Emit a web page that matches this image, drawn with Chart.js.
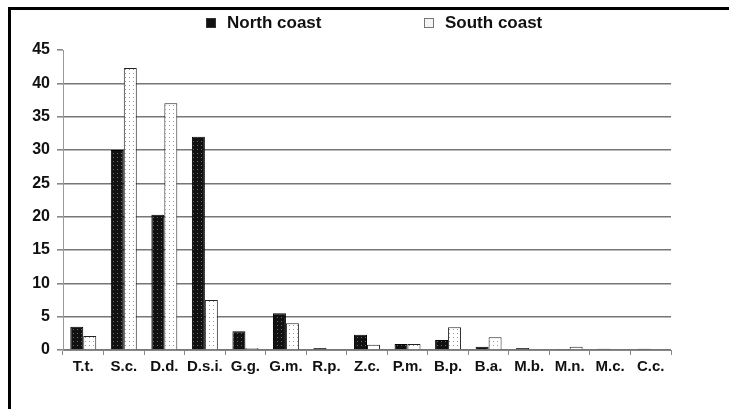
<!DOCTYPE html>
<html>
<head>
<meta charset="utf-8">
<script src="https://cdn.jsdelivr.net/npm/chart.js@4.4.0/dist/chart.umd.min.js"></script>
<style>
  html, body { margin: 0; padding: 0; background: #ffffff; }
  #wrap { position: relative; width: 729px; height: 409px; }
  canvas { display: block; }
</style>
</head>
<body>
<div id="wrap"><canvas id="c" width="729" height="409"></canvas></div>
<script>
const categories = ["T.t.", "S.c.", "D.d.", "D.s.i.", "G.g.", "G.m.", "R.p.", "Z.c.", "P.m.", "B.p.", "B.a.", "M.b.", "M.n.", "M.c.", "C.c."];
const northCoast = [3.5, 30, 20.3, 32, 2.8, 5.5, 0.3, 2.3, 0.9, 1.5, 0.5, 0.3, 0.15, 0.2, 0.2];
const southCoast = [2.1, 42.3, 37, 7.5, 0.3, 4, 0, 0.8, 0.9, 3.4, 1.9, 0, 0.5, 0, 0];
const yTicks = [0, 5, 10, 15, 20, 25, 30, 35, 40, 45];

const mainCtx = document.getElementById('c').getContext('2d');
function makePattern(bg, dot) {
  const p = document.createElement('canvas');
  p.width = 4; p.height = 4;
  const g = p.getContext('2d');
  g.fillStyle = bg; g.fillRect(0, 0, 4, 4);
  g.fillStyle = dot; g.fillRect(1, 1, 1, 1);
  return mainCtx.createPattern(p, 'repeat');
}
const northFill = makePattern('#111111', '#6a6a6a');
const southFill = makePattern('#ffffff', '#9a9a9a');

const framePlugin = {
  id: 'frame',
  afterDraw(chart) {
    const ctx = chart.ctx;
    ctx.save();
    ctx.fillStyle = '#000';
    ctx.fillRect(8, 7, 729 - 8, 3);
    ctx.fillRect(8, 7, 3, 409 - 7);
    ctx.restore();
  }
};

// legend drawn from the dataset labels, at the reference's spacing
const legendPlugin = {
  id: 'customLegend',
  afterDraw(chart) {
    const ctx = chart.ctx;
    const items = [
      { x: 206, fill: '#111', stroke: '#333' },
      { x: 424, fill: '#f4f4f4', stroke: '#777' }
    ];
    ctx.save();
    ctx.font = "bold 17px 'Liberation Sans', Arial, sans-serif";
    ctx.textBaseline = 'middle';
    ctx.textAlign = 'left';
    chart.data.datasets.forEach((ds, i) => {
      const it = items[i];
      ctx.fillStyle = it.fill;
      ctx.strokeStyle = it.stroke;
      ctx.lineWidth = 1;
      ctx.fillRect(it.x, 18, 10, 10);
      ctx.strokeRect(it.x + 0.5, 18.5, 9, 9);
      ctx.fillStyle = '#111';
      ctx.fillText(ds.label, it.x + 21, 23);
    });
    ctx.restore();
  }
};

new Chart(document.getElementById('c'), {
  type: 'bar',
  data: {
    labels: categories,
    datasets: [
      { label: 'North coast', data: northCoast, backgroundColor: northFill, borderColor: '#000', borderWidth: 1 },
      { label: 'South coast', data: southCoast, backgroundColor: southFill, borderColor: '#222', borderWidth: 1 }
    ]
  },
  options: {
    responsive: false,
    animation: false,
    devicePixelRatio: 1,
    layout: { padding: { left: 12, top: 50, right: 58, bottom: 0 } },
    datasets: { bar: { categoryPercentage: 0.64, barPercentage: 1.0 } },
    plugins: {
      legend: { display: false },
      tooltip: { enabled: false }
    },
    scales: {
      x: {
        offset: true,
        grid: { offset: true, drawOnChartArea: false, drawTicks: true, tickLength: 5, color: '#888', lineWidth: 1 },
        border: { display: true, color: '#888', width: 1 },
        ticks: {
          color: '#111',
          padding: 3,
          maxRotation: 0,
          autoSkip: false,
          font: { family: "'Liberation Sans', Arial, sans-serif", size: 15, weight: 'bold' }
        },
        afterFit(scale) { scale.height = 59; }
      },
      y: {
        min: 0,
        max: 45,
        afterBuildTicks(scale) { scale.ticks = yTicks.map(v => ({ value: v })); },
        grid: {
          color: ctx => (ctx.tick && ctx.tick.value === 45) ? 'rgba(0,0,0,0)' : '#767676',
          lineWidth: 1.6,
          tickColor: '#888',
          tickLength: 6,
          drawTicks: true
        },
        border: { display: true, color: '#999', width: 1 },
        ticks: {
          color: '#111',
          padding: 7,
          font: { family: "'Liberation Sans', Arial, sans-serif", size: 16, weight: 'bold' }
        },
        afterFit(scale) { scale.width = 51; }
      }
    }
  },
  plugins: [framePlugin, legendPlugin]
});
</script>
</body>
</html>
